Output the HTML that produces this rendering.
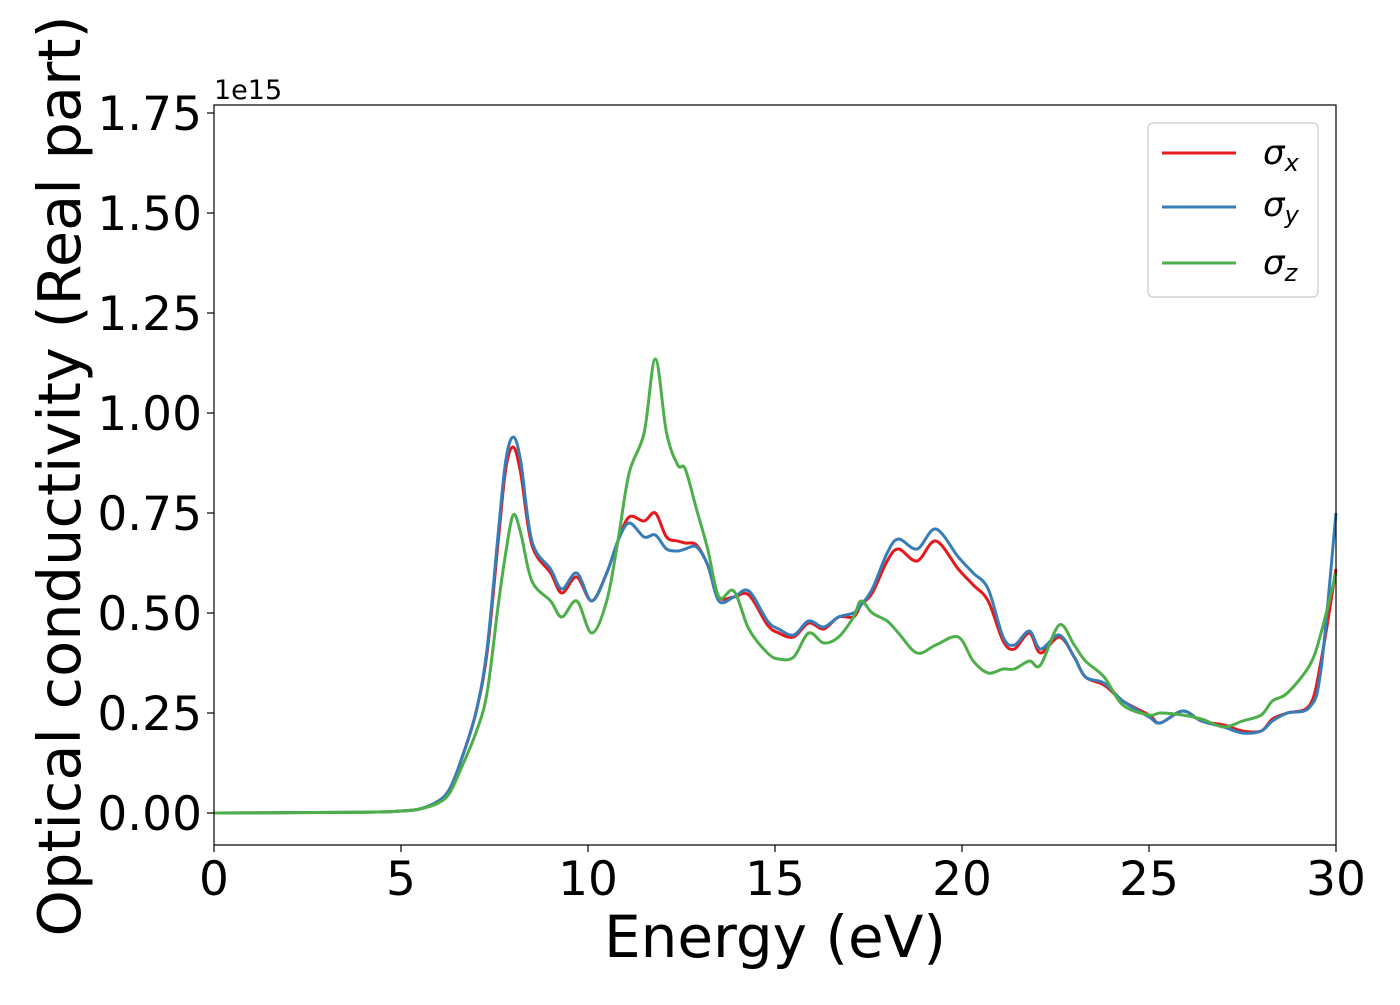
<!DOCTYPE html>
<html><head><meta charset="utf-8"><style>
body{margin:0;background:#fff;}
svg text{font-family:"DejaVu Sans","Liberation Sans",sans-serif;fill:#000;}
</style></head><body>
<svg id="chart" width="1400" height="1000" xmlns="http://www.w3.org/2000/svg">
<g id="plot"></g>
</svg>
<script>
const energies=[0,4,5,5.5,6,6.3,6.6,7,7.3,7.6,7.8,8.0,8.2,8.5,9.0,9.3,9.7,10.1,10.5,10.8,11.1,11.5,11.8,12.1,12.4,12.6,12.9,13.2,13.5,13.9,14.3,14.8,15.1,15.5,15.9,16.3,16.7,17.1,17.3,17.6,18.0,18.3,18.8,19.3,19.9,20.3,20.7,21.1,21.4,21.8,22.1,22.6,23.0,23.3,23.8,24.3,25.0,25.3,25.9,26.4,27.0,27.5,28.0,28.3,28.7,29.3,29.6,30.0];
const sigmaX=[0,0.002,0.005,0.01,0.03,0.06,0.13,0.25,0.40,0.68,0.86,0.915,0.85,0.67,0.60,0.55,0.59,0.53,0.60,0.68,0.74,0.73,0.75,0.69,0.68,0.675,0.67,0.62,0.54,0.54,0.545,0.47,0.45,0.44,0.475,0.46,0.49,0.49,0.52,0.55,0.63,0.66,0.63,0.68,0.61,0.57,0.53,0.43,0.41,0.45,0.40,0.44,0.39,0.34,0.32,0.28,0.245,0.225,0.255,0.23,0.22,0.205,0.205,0.235,0.25,0.27,0.38,0.61];
const sigmaY=[0,0.002,0.005,0.01,0.03,0.06,0.13,0.25,0.41,0.70,0.88,0.94,0.88,0.68,0.61,0.56,0.60,0.53,0.60,0.68,0.725,0.69,0.695,0.66,0.655,0.66,0.665,0.62,0.53,0.54,0.555,0.48,0.46,0.445,0.48,0.465,0.49,0.50,0.52,0.56,0.65,0.685,0.66,0.71,0.64,0.60,0.56,0.44,0.42,0.455,0.41,0.445,0.39,0.34,0.325,0.28,0.24,0.225,0.255,0.23,0.215,0.20,0.205,0.23,0.25,0.265,0.36,0.75];
const sigmaZ=[0,0.002,0.005,0.01,0.025,0.05,0.11,0.20,0.30,0.52,0.65,0.745,0.70,0.58,0.53,0.49,0.53,0.45,0.53,0.68,0.85,0.95,1.135,0.95,0.87,0.86,0.76,0.66,0.54,0.555,0.46,0.40,0.385,0.39,0.45,0.425,0.44,0.49,0.53,0.50,0.48,0.45,0.40,0.42,0.44,0.38,0.35,0.36,0.36,0.38,0.37,0.47,0.42,0.38,0.34,0.27,0.245,0.25,0.245,0.235,0.215,0.23,0.245,0.28,0.30,0.37,0.45,0.60];
const xTicks=[0,5,10,15,20,25,30];
const yTicks=[0,0.25,0.5,0.75,1.0,1.25,1.5,1.75];
const yTickLabels=["0.00","0.25","0.50","0.75","1.00","1.25","1.50","1.75"];

const NS="http://www.w3.org/2000/svg";
const L=214,R=1336,T=105,B=845;
const xMin=0,xMax=30,yMin=-0.08,yMax=1.77;
const sx=v=>L+(v-xMin)/(xMax-xMin)*(R-L);
const sy=v=>B-(v-yMin)/(yMax-yMin)*(B-T);
const svg=document.getElementById('chart');
function mk(tag,attrs,parent){const e=document.createElementNS(NS,tag);for(const k in attrs)e.setAttribute(k,attrs[k]);(parent||svg).appendChild(e);return e;}

function pathFor(vals){
  const p=energies.map((e,i)=>[sx(e),sy(vals[i])]);
  let d=`M${p[0][0]},${p[0][1]}`;
  for(let i=0;i<p.length-1;i++){
    const p0=p[Math.max(0,i-1)],p1=p[i],p2=p[i+1],p3=p[Math.min(p.length-1,i+2)];
    const c1=[p1[0]+(p2[0]-p0[0])/6,p1[1]+(p2[1]-p0[1])/6];
    const c2=[p2[0]-(p3[0]-p1[0])/6,p2[1]-(p3[1]-p1[1])/6];
    d+=` C${c1[0]},${c1[1]} ${c2[0]},${c2[1]} ${p2[0]},${p2[1]}`;
  }
  return d;
}
const series=[[sigmaX,'#e41a1c','series-sigma-x'],[sigmaY,'#377eb8','series-sigma-y'],[sigmaZ,'#4daf4a','series-sigma-z']];
series.forEach(s=>{
  const el=mk('path',{d:pathFor(s[0]),fill:'none',stroke:s[1],'stroke-width':3});
  
  
});
const frame=mk('rect',{x:L,y:T,width:R-L,height:B-T,fill:'none',stroke:'#000','stroke-width':1.2});



xTicks.forEach(t=>{
  const tk=mk('line',{x1:sx(t),x2:sx(t),y1:B,y2:B+7,stroke:'#000','stroke-width':1.2});
  
  
  const tx=mk('text',{x:sx(t),y:895,'font-size':47,'text-anchor':'middle'});
  tx.textContent=t;
  
  
});
yTicks.forEach((t,i)=>{
  const tk=mk('line',{x1:L-7,x2:L,y1:sy(t),y2:sy(t),stroke:'#000','stroke-width':1.2});
  
  
  const tx=mk('text',{x:202,y:sy(t)+17,'font-size':47,'text-anchor':'end'});
  tx.textContent=yTickLabels[i];
  
  
});
</script>
<svg style="position:absolute;left:0;top:0" width="1400" height="1000" xmlns="http://www.w3.org/2000/svg">
<text x="214" y="99" font-size="27">1e15</text>
<text x="775" y="957" font-size="58" text-anchor="middle">Energy (eV)</text>
<text x="0" y="0" font-size="59" text-anchor="middle" transform="translate(80,476) rotate(-90)">Optical conductivity (Real part)</text>
<g>
<rect x="1148" y="123" width="170" height="174" rx="5" fill="#fff" stroke="#ccc" stroke-width="1.2"/>
<g><line x1="1162" y1="153" x2="1236" y2="153" stroke="#e41a1c" stroke-width="3"/><text x="1263" y="164" font-size="34" font-style="italic">σ<tspan font-size="24" dy="7">x</tspan></text></g>
<g><line x1="1162" y1="207" x2="1236" y2="207" stroke="#377eb8" stroke-width="3"/><text x="1263" y="216" font-size="34" font-style="italic">σ<tspan font-size="24" dy="7">y</tspan></text></g>
<g><line x1="1162" y1="263" x2="1236" y2="263" stroke="#4daf4a" stroke-width="3"/><text x="1263" y="274" font-size="34" font-style="italic">σ<tspan font-size="24" dy="7">z</tspan></text></g>
</g>
</svg>
</body></html>
